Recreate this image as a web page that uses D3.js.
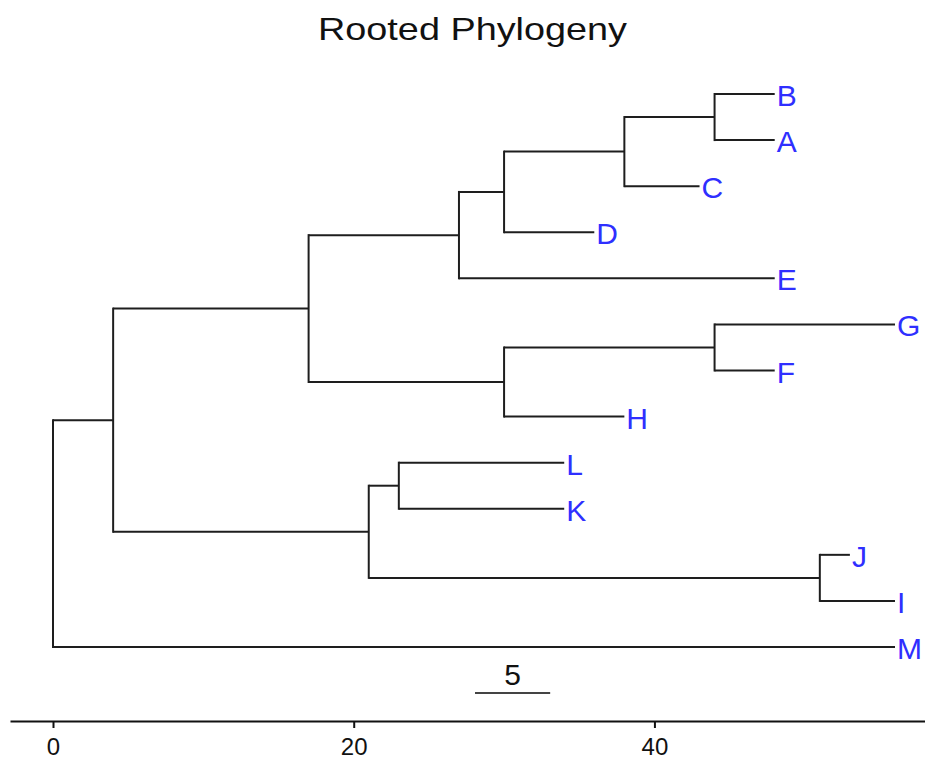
<!DOCTYPE html>
<html>
<head>
<meta charset="utf-8">
<script src="https://cdn.jsdelivr.net/npm/d3@7"></script>
<style>
  html, body { margin: 0; padding: 0; background: #fff; }
  svg { display: block; font-family: "Liberation Sans", Arial, sans-serif; }
</style>
</head>
<body>
<svg id="chart" width="925" height="761"></svg>
<script>
// Tips in plotting order (top to bottom) and their distance from the root
const tipLabels = ["B", "A", "C", "D", "E", "G", "F", "H", "L", "K", "J", "I", "M"];
const tipDepths = [48, 48, 43, 36, 48, 56, 48, 38, 34, 34, 53, 56, 56];

// Internal nodes: id, distance from root, children
const nodeIds = ["root", "n1", "n2", "n3", "n4", "n5", "n6", "n7", "n8", "n9", "n10", "n11"];
const nodeDepths = [0, 4, 17, 27, 30, 38, 44, 30, 44, 21, 23, 51];
const nodeChildren = [
  ["n1", "M"],
  ["n2", "n9"],
  ["n3", "n7"],
  ["n4", "E"],
  ["n5", "D"],
  ["n6", "C"],
  ["B", "A"],
  ["n8", "H"],
  ["G", "F"],
  ["n10", "n11"],
  ["L", "K"],
  ["J", "I"]
];

// Axis ticks and the scale bar length
const axisTicks = [0, 20, 40];
const scaleBarLength = 5;
const scaleBarStart = 28;

const svg = d3.select("#chart");

const x = d3.scaleLinear().domain([0, 56]).range([53, 895]);
const y = d3.scaleLinear().domain([0, tipLabels.length - 1]).range([94, 647]);

// Build a nested tree from the flat arrays
const depthOf = new Map();
tipLabels.forEach((t, i) => depthOf.set(t, tipDepths[i]));
nodeIds.forEach((n, i) => depthOf.set(n, nodeDepths[i]));
const kidsOf = new Map(nodeIds.map((n, i) => [n, nodeChildren[i]]));

function build(id) {
  const kids = kidsOf.get(id);
  return kids ? { id, children: kids.map(build) } : { id };
}
const root = d3.hierarchy(build("root"));

// Vertical placement: tips by order, internal nodes at the midpoint of their children
root.eachAfter(d => {
  d.px = x(depthOf.get(d.data.id));
  if (!d.children) {
    d.py = y(tipLabels.indexOf(d.data.id));
  } else {
    const ys = d.children.map(c => c.py);
    d.py = (d3.min(ys) + d3.max(ys)) / 2;
  }
});

const edgeColor = "#1e1e1e";
const g = svg.append("g");

// Vertical connectors at each internal node
g.selectAll("line.vert")
  .data(root.descendants().filter(d => d.children))
  .join("line")
  .attr("class", "vert")
  .attr("x1", d => d.px).attr("x2", d => d.px)
  .attr("y1", d => d3.min(d.children, c => c.py))
  .attr("y2", d => d3.max(d.children, c => c.py))
  .attr("stroke", edgeColor).attr("stroke-width", 2)
  .attr("stroke-linecap", "square");

// Horizontal branches
g.selectAll("line.horiz")
  .data(root.descendants().filter(d => d.parent))
  .join("line")
  .attr("class", "horiz")
  .attr("x1", d => d.parent.px).attr("x2", d => d.px)
  .attr("y1", d => d.py).attr("y2", d => d.py)
  .attr("stroke", edgeColor).attr("stroke-width", 2);

// Tip labels
g.selectAll("text.tip")
  .data(root.leaves())
  .join("text")
  .attr("class", "tip")
  .attr("x", d => d.px + 2)
  .attr("y", d => d.py + 12)
  .attr("font-size", 30)
  .attr("fill", "#2f2fff")
  .text(d => d.data.id);

// Title
svg.append("text")
  .attr("x", 472.5).attr("y", 40)
  .attr("text-anchor", "middle")
  .attr("font-size", 32)
  .attr("textLength", 309)
  .attr("lengthAdjust", "spacingAndGlyphs")
  .attr("fill", "#111")
  .text("Rooted Phylogeny");

// Scale bar
svg.append("line")
  .attr("x1", x(scaleBarStart) + 1).attr("x2", x(scaleBarStart + scaleBarLength) + 1)
  .attr("y1", 693).attr("y2", 693)
  .attr("stroke", "#444").attr("stroke-width", 2);
svg.append("text")
  .attr("x", (x(scaleBarStart) + x(scaleBarStart + scaleBarLength)) / 2 + 1)
  .attr("y", 685)
  .attr("text-anchor", "middle")
  .attr("font-size", 30)
  .attr("fill", "#111")
  .text(scaleBarLength);

// Bottom axis, with its line running across the full width
const xAxisScale = x.copy().domain([x.invert(10), x.invert(925)]).range([10, 925]);
const axis = svg.append("g")
  .attr("transform", "translate(0,721)")
  .call(d3.axisBottom(xAxisScale).tickValues(axisTicks).tickSize(7).tickSizeOuter(0));
axis.select(".domain").attr("stroke", "#111").attr("stroke-width", 2);
axis.selectAll(".tick line").attr("stroke", "#111").attr("stroke-width", 2);
axis.selectAll(".tick text")
  .attr("font-family", "'Liberation Sans', Arial, sans-serif")
  .attr("font-size", 24)
  .attr("fill", "#111")
  .attr("y", 34)
  .attr("dy", null);
</script>
</body>
</html>
